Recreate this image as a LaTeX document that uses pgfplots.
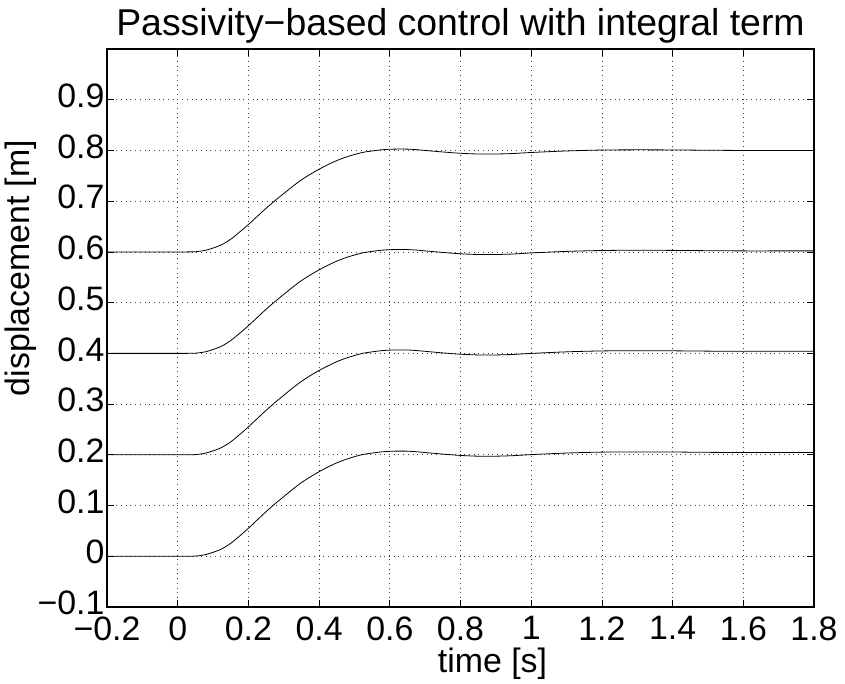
\documentclass[border=0pt]{standalone}
\usepackage{pgfplots}
\pgfplotsset{compat=1.18}
\usepackage{pgfplotstable}
\usepackage{fontspec}
\setmainfont{Liberation Sans}
\pgfplotstableread{
t y1 y2 y3 y4
-0.2 0 0.2 0.4 0.6
0 0 0.2 0.4 0.6
0.025 0 0.2 0.4 0.6
0.05 0.0004 0.2004 0.4004 0.6004
0.075 0.0027 0.2027 0.4026 0.6026
0.1 0.0078 0.2078 0.4077 0.6076
0.125 0.0147 0.2147 0.4145 0.6144
0.15 0.0256 0.2255 0.4253 0.625
0.175 0.0399 0.2398 0.4394 0.639
0.2 0.0552 0.2551 0.4545 0.654
0.225 0.0716 0.2714 0.4707 0.67
0.25 0.0879 0.2877 0.4869 0.686
0.275 0.1033 0.303 0.502 0.701
0.3 0.1176 0.3173 0.5162 0.715
0.325 0.1319 0.3316 0.5303 0.729
0.35 0.1452 0.3448 0.5434 0.742
0.375 0.1564 0.3561 0.5545 0.753
0.4 0.1667 0.3663 0.5646 0.763
0.425 0.1759 0.3754 0.5737 0.772
0.45 0.1841 0.3836 0.5818 0.78
0.475 0.1908 0.3903 0.5885 0.7866
0.5 0.1963 0.3958 0.5939 0.792
0.525 0.2008 0.4003 0.5984 0.7964
0.55 0.2035 0.403 0.601 0.799
0.575 0.2057 0.4052 0.6032 0.8012
0.6 0.207 0.4064 0.6044 0.8024
0.625 0.2073 0.4068 0.6047 0.8027
0.65 0.2072 0.4067 0.6046 0.8026
0.675 0.2061 0.4056 0.6036 0.8016
0.7 0.2045 0.404 0.602 0.8
0.75 0.2014 0.4009 0.599 0.797
0.8 0.1988 0.3983 0.5963 0.7944
0.85 0.1973 0.3969 0.5949 0.793
0.9 0.1973 0.3969 0.5949 0.793
0.95 0.1984 0.3979 0.5959 0.794
1.0 0.2004 0.3999 0.598 0.796
1.1 0.2035 0.403 0.601 0.799
1.2 0.2053 0.4048 0.6028 0.8008
1.3 0.2057 0.4052 0.6032 0.8012
1.4 0.2055 0.405 0.603 0.801
1.5 0.2049 0.4044 0.6024 0.8004
1.6 0.2045 0.404 0.602 0.8
1.7 0.2045 0.404 0.602 0.8
1.8 0.2045 0.404 0.602 0.8
}\data
\begin{document}
\begin{tikzpicture}
\begin{axis}[
  scale only axis,
  width=707bp, height=558bp,
  xmin=-0.2, xmax=1.8, ymin=-0.1, ymax=1.0,
  xtick={-0.2,0,0.2,0.4,0.6,0.8,1,1.2,1.4,1.6,1.8},
  xticklabels={−0.2,0,0.2,0.4,0.6,0.8,1,1.2,1.4,1.6,1.8},
  ytick={-0.1,0,0.1,0.2,0.3,0.4,0.5,0.6,0.7,0.8,0.9},
  yticklabels={−0.1,0,0.1,0.2,0.3,0.4,0.5,0.6,0.7,0.8,0.9},
  tick align=inside,
  major tick length=7bp,
  tick style={black, line width=0.8pt},
  axis line style={black, line width=1.2pt},
  grid=major,
  major grid style={black!75, line width=0.7pt, dash pattern=on 0.7bp off 4bp},
  ticklabel style={font=\fontsize{34}{38}\selectfont},
  label style={font=\fontsize{34}{38}\selectfont},
  title style={font=\fontsize{37.5}{42}\selectfont, yshift=-4bp},
  xticklabel style={yshift=-6bp},
  yticklabel style={xshift=1bp, yshift=4bp},
  xlabel={time [s]},
  ylabel={displacement [m]},
  xlabel style={yshift=-1bp, xshift=32bp},
  ylabel style={yshift=-6bp, xshift=60bp},
  title={Passivity−based control with integral term},
]
\addplot[black, line width=0.8pt, smooth] table[x=t, y=y1] {\data};
\addplot[black, line width=0.8pt, smooth] table[x=t, y=y2] {\data};
\addplot[black, line width=0.8pt, smooth] table[x=t, y=y3] {\data};
\addplot[black, line width=0.8pt, smooth] table[x=t, y=y4] {\data};
\end{axis}
\path (current axis.south west) ++(-107bp,-77bp) coordinate (bl);
\path (current axis.north east) ++(31bp,49bp) coordinate (tr);
\pgfresetboundingbox
\path[use as bounding box] (bl) rectangle (tr);
\end{tikzpicture}
\end{document}
